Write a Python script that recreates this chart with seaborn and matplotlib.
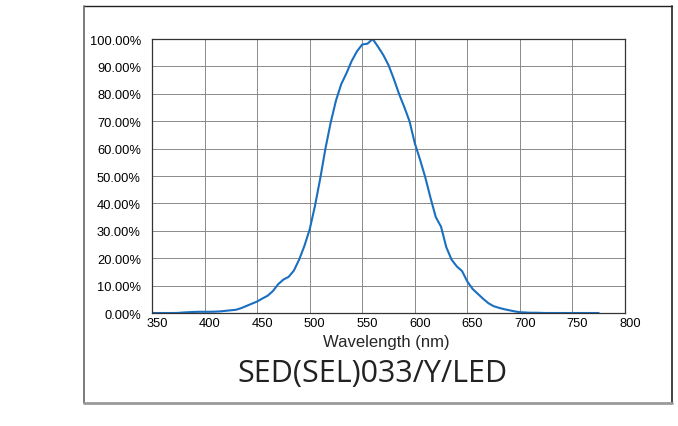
import numpy as np
import pandas as pd
import seaborn as sns
import matplotlib.pyplot as plt
import matplotlib.transforms as mtransforms
from matplotlib.lines import Line2D
from matplotlib.ticker import PercentFormatter

# spectrum (percent of peak)
wavelength = list(range(350, 780, 5))
intensity = [0, 0, 0, 0, 0, 0.05, 0.2, 0.3, 0.4, 0.45,
             0.45, 0.45, 0.5, 0.6, 0.8, 1.0, 1.2, 1.8, 2.6, 3.4,
             4.2, 5.3, 6.3, 8.0, 10.5, 12.2, 13.2, 15.5, 19.5, 24.5,
             30.5, 39, 49, 60, 69.5, 77.5, 83.5, 87.5, 92, 95.5,
             98, 98.3, 100, 97.2, 94.2, 90.5, 85.5, 80, 75.2, 70,
             62, 56, 49.5, 42, 35, 31.5, 24, 19.5, 17, 15.3,
             11.5, 8.8, 7, 5.2, 3.6, 2.5, 1.9, 1.4, 1.0, 0.6,
             0.3, 0.2, 0.1, 0.1, 0.05, 0, 0, 0, 0, 0,
             0, 0, 0, 0, 0, 0]
x_ticks = list(range(350, 801, 50))
y_ticks = list(range(0, 101, 10))

df = pd.DataFrame({'wl': wavelength, 'rel': intensity})

sns.set_style('white')
plt.rcParams['font.family'] = ['Liberation Sans', 'DejaVu Sans']

fig = plt.figure(figsize=(6.78, 4.27), dpi=100)
ax = fig.add_axes([0.2242, 0.2646, 0.6976, 0.6417])

sns.lineplot(data=df, x='wl', y='rel', color='#1a6fc0', linewidth=1.5, ax=ax)

ax.set_xlim(350, 800)
ax.set_ylim(0, 100)
ax.set_xticks(x_ticks)
ax.set_yticks(y_ticks)
ax.yaxis.set_major_formatter(PercentFormatter(decimals=2))
ax.grid(True, color='#8a8a8a', linewidth=0.7)
for s in ax.spines.values():
    s.set_color('#333333')
    s.set_linewidth(0.9)
ax.tick_params(axis='both', direction='out', length=3, width=0.8, color='#333333',
               labelsize=9.3, pad=5, labelcolor='black')
ax.tick_params(axis='x', length=0, pad=3)
# x labels sit a little right of their gridlines in the original
shift = mtransforms.ScaledTranslation(5 / 100, 0, fig.dpi_scale_trans)
for lab in ax.get_xticklabels():
    lab.set_transform(lab.get_transform() + shift)
ax.set_xlabel('Wavelength (nm)', fontsize=12, labelpad=1)
ax.xaxis.set_label_coords(0.495, -0.075)
ax.set_ylabel('')

fig.text(0.549, 0.124, 'SED(SEL)033/Y/LED', ha='center', va='center',
         fontsize=22, family=['Open Sans', 'DejaVu Sans'], color='#222222')

# outer frame
l, r, t, b = 84 / 678, 672 / 678, 1 - 7 / 427, 1 - 404 / 427
fig.add_artist(Line2D([l, r], [t, t], color='#222222', lw=1.0))
fig.add_artist(Line2D([r, r], [t, b], color='#222222', lw=1.2))
fig.add_artist(Line2D([l, l], [t, b], color='#666666', lw=1.2))
fig.add_artist(Line2D([l, r], [b, b], color='#999999', lw=2.0))

fig.savefig('out.png', dpi=100)
